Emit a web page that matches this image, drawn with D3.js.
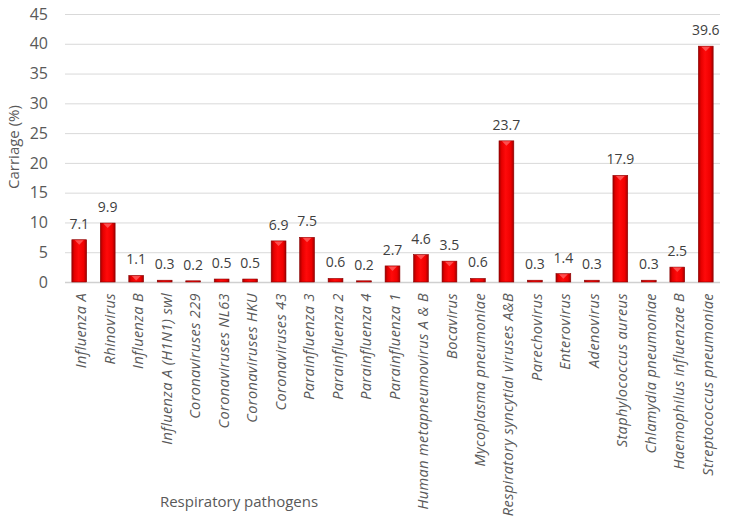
<!DOCTYPE html>
<html><head><meta charset="utf-8">
<script src="https://cdn.jsdelivr.net/npm/d3@7"></script>
<style>body{margin:0;background:#fff}svg{display:block}</style>
</head><body>
<script>
const categories = ["Influenza A","Rhinovirus","Influenza B","Influenza A (H1N1) swl","Coronaviruses 229","Coronaviruses NL63","Coronaviruses HKU","Coronaviruses 43","Parainfluenza 3","Parainfluenza 2","Parainfluenza 4","Parainfluenza 1","Human metapneumovirus A & B","Bocavirus","Mycoplasma pneumoniae","Respiratory syncytial viruses A&B","Parechovirus","Enterovirus","Adenovirus","Staphylococcus aureus","Chlamydia pneumoniae","Haemophilus influenzae B","Streptococcus pneumoniae"];
const values = [7.1,9.9,1.1,0.3,0.2,0.5,0.5,6.9,7.5,0.6,0.2,2.7,4.6,3.5,0.6,23.7,0.3,1.4,0.3,17.9,0.3,2.5,39.6];
const yTicks = [0,5,10,15,20,25,30,35,40,45];
const yTitle = "Carriage (%)";
const xTitle = "Respiratory pathogens";

const W = 729, H = 524;
const m = {left:65, right:9, top:14, bottom:242};
const svg = d3.select("body").append("svg").attr("width",W).attr("height",H);
const font = "'Open Sans', sans-serif";
const data = categories.map((c,i)=>({c, v: values[i]}));

const defs = svg.append("defs");
const g1 = defs.append("linearGradient").attr("id","barg").attr("x1","0").attr("x2","1").attr("y1","0").attr("y2","0");
[[0,"#a00000"],[0.18,"#e60000"],[0.45,"#ff0a0a"],[0.8,"#f00000"],[1,"#a00000"]].forEach(([o,c])=>g1.append("stop").attr("offset",o).attr("stop-color",c));

const x = d3.scaleBand().domain(categories).range([m.left, W-m.right]).paddingInner(0.48).paddingOuter(0.24);
const y = d3.scaleLinear().domain([0,45]).range([H-m.bottom, m.top]);

// gridlines
svg.append("g").selectAll("line").data(yTicks).join("line")
  .attr("x1",m.left).attr("x2",W-m.right)
  .attr("y1",d=>y(d)+0.5).attr("y2",d=>y(d)+0.5)
  .attr("stroke",d=>d===0?"#d0d0d0":"#d9d9d9").attr("stroke-width",d=>d===0?1.5:1);

// y axis labels
const yAxis = d3.axisLeft(y).tickValues(yTicks).tickSize(0).tickPadding(17);
const ya = svg.append("g").attr("transform",`translate(${m.left},0)`).call(yAxis);
ya.select(".domain").remove();
ya.selectAll("text").attr("font-family",font).attr("font-size",16).attr("fill","#595959");

// bars
const bars = svg.append("g").selectAll("g").data(data).join("g");
bars.append("rect")
  .attr("x",d=>x(d.c)).attr("width",x.bandwidth())
  .attr("y",d=>y(d.v)).attr("height",d=>y(0)-y(d.v))
  .attr("fill","url(#barg)").attr("stroke","#8a0000").attr("stroke-width",0.6);
bars.filter(d=>d.v>=1).append("path")
  .attr("d",d=>{const x0=x(d.c), bw=x.bandwidth(), t=y(d.v);
    return `M${x0+bw*0.2},${t+0.5} L${x0+bw*0.8},${t+0.5} L${x0+bw*0.5},${t+5} Z`;})
  .attr("fill","#ff5a5a").attr("opacity",0.85);

// data labels
svg.append("g").selectAll("text").data(data).join("text")
  .attr("x",d=>x(d.c)+x.bandwidth()/2)
  .attr("y",d=>y(d.v)-11)
  .attr("text-anchor","middle")
  .attr("font-family",font).attr("font-size",14).attr("fill","#404040")
  .text(d=>d.v.toFixed(1));

// x category labels
const xAxis = d3.axisBottom(x).tickSize(0).tickPadding(0);
const xa = svg.append("g").attr("transform",`translate(0,${y(0)})`).call(xAxis);
xa.select(".domain").remove();
xa.selectAll("text")
  .attr("transform","translate(2,11) rotate(-90)")
  .attr("text-anchor","end").attr("dy","0.35em").attr("dx",0).attr("y",0).attr("x",0)
  .attr("font-family",font).attr("font-style","italic").attr("font-size",14.5)
  .attr("letter-spacing","0.4px").attr("fill","#595959");

// axis titles
svg.append("text").attr("transform","translate(19,147) rotate(-90)")
  .attr("text-anchor","middle").attr("font-family",font).attr("font-size",15).attr("fill","#595959").text(yTitle);
svg.append("text").attr("x",239).attr("y",507)
  .attr("text-anchor","middle").attr("font-family",font).attr("font-size",15).attr("fill","#595959").text(xTitle);
</script>
</body></html>
